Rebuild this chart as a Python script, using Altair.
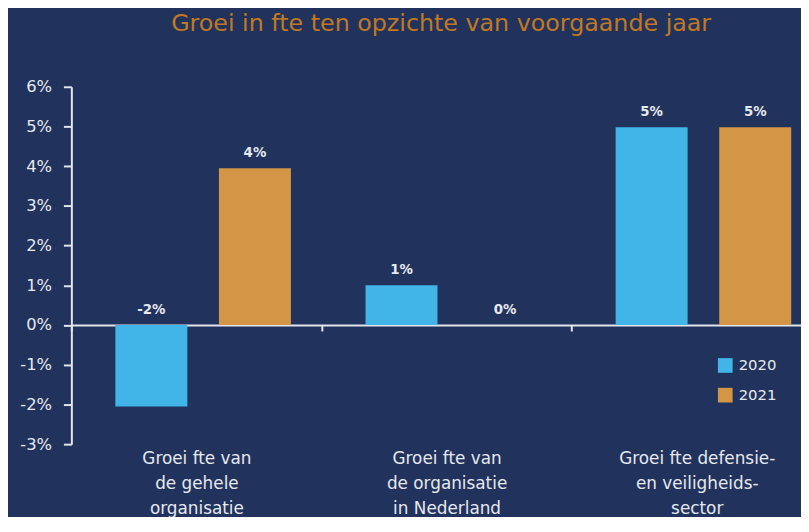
import altair as alt
import pandas as pd

# ---- data ----
categories = [
    "Groei fte van|de gehele|organisatie",
    "Groei fte van|de organisatie|in Nederland",
    "Groei fte defensie-|en veiligheids-|sector",
]
years = ["2020", "2021"]
values_2020 = [-2.05, 1.0, 4.98]
values_2021 = [3.95, 0.0, 4.98]
y_ticks = [-3, -2, -1, 0, 1, 2, 3, 4, 5, 6]
title_text = "Groei in fte ten opzichte van voorgaande jaar"

# ---- style ----
BG = "#21335d"
BLUE = "#41b4e8"
ORANGE = "#d39646"
TITLE_C = "#c27820"
TEXT_C = "#e6e8ee"
AXIS_C = "#e2e5ec"
FONT = "DejaVu Sans"

rows = []
for c, a, b in zip(categories, values_2020, values_2021):
    rows.append({"cat": c, "year": years[0], "value": a})
    rows.append({"cat": c, "year": years[1], "value": b})
df = pd.DataFrame(rows)

H = 361
W = 737
XR = 758
ymin, ymax = y_ticks[0], y_ticks[-1]
zero_offset = -H * (0 - ymin) / (ymax - ymin)

x_enc = alt.X(
    "cat:N",
    sort=categories,
    scale=alt.Scale(range=[0, XR], paddingInner=0, paddingOuter=0),
    axis=alt.Axis(
        title=None,
        orient="bottom",
        offset=zero_offset,
        domainColor=AXIS_C,
        domainWidth=2,
        tickBand="extent",
        tickSize=6,
        tickWidth=2,
        tickColor=AXIS_C,
        labelAngle=0,
        labelExpr="split(datum.label, '|')",
        labelLineHeight=25,
        labelBaseline="top",
        labelPadding=121,
        labelFontSize=17,
        labelColor=TEXT_C,
        labelFont=FONT,
    ),
)
xoff_enc = alt.XOffset(
    "year:N",
    sort=years,
    scale=alt.Scale(paddingInner=0.305, paddingOuter=0.36, align=0.59),
)
y_enc = alt.Y(
    "value:Q",
    scale=alt.Scale(domain=[ymin, ymax], nice=False, zero=False),
    axis=alt.Axis(
        title=None,
        values=y_ticks,
        labelExpr="datum.value + '%'",
        grid=False,
        domainColor=AXIS_C,
        domainWidth=2,
        tickColor=AXIS_C,
        tickSize=8,
        tickWidth=2,
        labelPadding=12,
        labelFontSize=16.5,
        labelColor=TEXT_C,
        labelFont=FONT,
    ),
)
color_enc = alt.Color(
    "year:N",
    sort=years,
    scale=alt.Scale(domain=years, range=[BLUE, ORANGE]),
    legend=alt.Legend(
        title=None,
        orient="none",
        legendX=653,
        legendY=274,
        symbolType="square",
        symbolSize=220,
        symbolStrokeWidth=0,
        labelFontSize=15,
        labelColor=TEXT_C,
        labelFont=FONT,
        rowPadding=14,
        labelOffset=6,
    ),
)

base = alt.Chart(df)

bars = base.mark_bar().encode(x=x_enc, xOffset=xoff_enc, y=y_enc, color=color_enc)

labels = (
    base.transform_calculate(
        ly="max(datum.value, 0)",
        txt="round(datum.value) + '%'",
    )
    .mark_text(dy=-15, baseline="middle", fontSize=13.5, fontWeight="bold", color=TEXT_C, font=FONT)
    .encode(
        x=alt.X("cat:N", sort=categories),
        xOffset=alt.XOffset("year:N", sort=years),
        y=alt.Y("ly:Q"),
        text="txt:N",
    )
)

chart = (
    alt.layer(bars, labels)
    .properties(
        width=W,
        height=H,
        autosize=alt.AutoSizeParams(type="none"),
        padding={"left": 64, "top": 77, "right": 0, "bottom": 71},
        title=alt.Title(
            title_text,
            fontSize=24,
            fontWeight="normal",
            color=TITLE_C,
            font=FONT,
            anchor="middle",
            frame="group",
            baseline="alphabetic",
            offset=24,
            dx=5,
        ),
    )
    .configure(background=BG)
    .configure_view(stroke=None)
)

chart.save("out.html", embed_options={"renderer": "svg", "actions": False})
